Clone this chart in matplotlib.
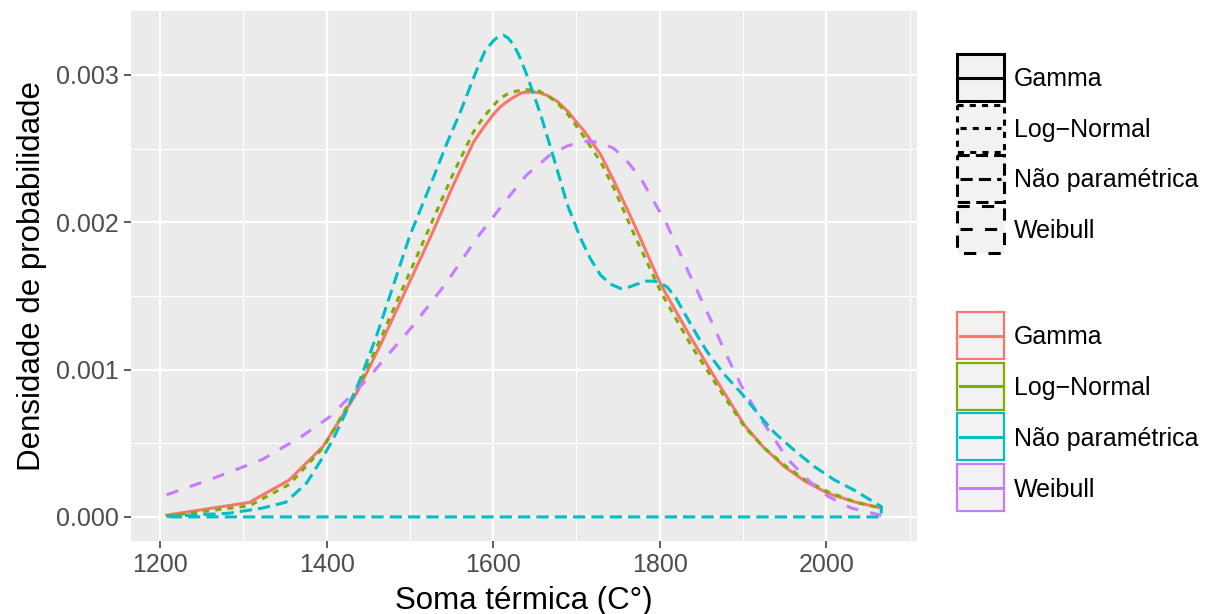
import matplotlib
matplotlib.use("Agg")
import matplotlib.pyplot as plt
import matplotlib.patches as mpatches

plt.rcParams.update({
    "font.family": "Liberation Sans",
    "axes.spines.top": False,
    "axes.spines.right": False,
    "axes.spines.left": False,
    "axes.spines.bottom": False,
})

# density curves (x in C°, y density)
x_gamma = [1208, 1307, 1355, 1396, 1436, 1464, 1496, 1524, 1552, 1576, 1588, 1600,
           1608, 1617, 1625, 1635, 1645, 1655, 1665, 1677, 1690, 1700, 1709, 1729,
           1745, 1769, 1801, 1837, 1870, 1902, 1925, 1950, 1975, 2002, 2035, 2066]
y_gamma = [0.000012, 0.000098, 0.00025, 0.00048, 0.00084, 0.00116, 0.00155, 0.00189,
           0.00225, 0.00254, 0.00264, 0.00273, 0.00278, 0.00282, 0.00285, 0.00288,
           0.002885, 0.00288, 0.00286, 0.00282, 0.00275, 0.00268, 0.00262, 0.00246,
           0.00228, 0.00199, 0.00158, 0.00122, 0.00091, 0.00062, 0.00047, 0.00034,
           0.00024, 0.00016, 0.00010, 0.00006]

x_lnorm = [1208, 1307, 1355, 1396, 1436, 1464, 1496, 1524, 1552, 1576, 1588, 1600,
           1608, 1617, 1628, 1640, 1655, 1665, 1677, 1690, 1709, 1729, 1745, 1769,
           1801, 1837, 1870, 1902, 1925, 1950, 1975, 2002, 2035, 2066]
y_lnorm = [0.000006, 0.000075, 0.00022, 0.00047, 0.00086, 0.00120, 0.00161, 0.00197,
           0.00233, 0.00261, 0.00271, 0.00279, 0.00284, 0.00287, 0.00289, 0.00290,
           0.00289, 0.00286, 0.00281, 0.00273, 0.00258, 0.00241, 0.00223, 0.00192,
           0.00153, 0.00117, 0.00088, 0.00061, 0.00047, 0.00035, 0.00025, 0.00017,
           0.00010, 0.00006]

x_kde = [1208, 1283, 1323, 1351, 1376, 1396, 1408, 1424, 1440, 1460, 1480, 1500, 1528,
         1544, 1560, 1580, 1590, 1600, 1606, 1612, 1618, 1625, 1632, 1641, 1657, 1673,
         1689, 1705, 1717, 1729, 1741, 1753, 1763, 1773, 1783, 1793, 1800, 1809, 1819,
         1829, 1843, 1857, 1877, 1898, 1918, 1938, 1962, 1986, 2010, 2034, 2066]
y_kde = [0.000003, 0.000025, 0.00006, 0.00010, 0.00023, 0.00041, 0.00053, 0.00072,
         0.00093, 0.00123, 0.00157, 0.00191, 0.00230, 0.00253, 0.00274, 0.00303, 0.00316,
         0.00323, 0.00326, 0.00327, 0.00325, 0.00320, 0.00312, 0.00299, 0.00273, 0.00243,
         0.00212, 0.00189, 0.00175, 0.00164, 0.00158, 0.00155, 0.00156, 0.00158, 0.00160,
         0.00160, 0.00159, 0.00156, 0.00149, 0.00139, 0.00125, 0.00112, 0.00097, 0.00084,
         0.00070, 0.00057, 0.00045, 0.00034, 0.00025, 0.00018, 0.00007]

x_weib = [1208, 1263, 1323, 1371, 1404, 1448, 1504, 1544, 1580, 1617, 1640, 1669,
          1690, 1713, 1730, 1745, 1760, 1777, 1793, 1809, 1833, 1861, 1880, 1898, 1922,
          1954, 1980, 2002, 2030, 2066]
y_weib = [0.00015, 0.00026, 0.00039, 0.00055, 0.00068, 0.00093, 0.00130, 0.00159,
          0.00189, 0.00216, 0.00232, 0.00246, 0.00252, 0.00255, 0.00254, 0.00250,
          0.00242, 0.00230, 0.00214, 0.00198, 0.00168, 0.00134, 0.00110, 0.00089,
          0.00066, 0.00039, 0.00024, 0.00014, 0.00006, 0.00001]

labels = ["Gamma", "Log\u2212Normal", "Não paramétrica", "Weibull"]
colors = ["#F8766D", "#7CAE00", "#00BFC4", "#C77CFF"]
dashes = [None, (2, 2), (4, 2), (4, 4)]
x_ticks = [1200, 1400, 1600, 1800, 2000]
y_ticks = [0.000, 0.001, 0.002, 0.003]

W, H = 1213, 614
fig = plt.figure(figsize=(W / 100, H / 100), dpi=100)
ax = fig.add_axes([131 / W, 1 - 541 / H, (917 - 131) / W, (541 - 11) / H])
ax.set_facecolor("#EBEBEB")
ax.set_axisbelow(True)

LW = 2.2


def styled(line, d):
    if d is not None:
        line.set_dashes(d)


# fitted densities
for xs, ys, i in [(x_gamma, y_gamma, 0), (x_lnorm, y_lnorm, 1), (x_weib, y_weib, 3)]:
    ln, = ax.plot(xs, ys, color=colors[i], lw=LW, solid_joinstyle="round")
    styled(ln, dashes[i])

# kernel density drawn as closed outline (ggplot geom_density)
kx = x_kde + [x_kde[-1], x_kde[0], x_kde[0]]
ky = y_kde + [0, 0, y_kde[0]]
ln, = ax.plot(kx, ky, color=colors[2], lw=LW, dash_capstyle="butt")
styled(ln, dashes[2])

all_x = x_gamma + x_lnorm + x_kde + x_weib
all_y = y_gamma + y_lnorm + y_kde + y_weib
xr = max(all_x) - min(all_x)
yr = max(all_y)
ax.set_xlim(min(all_x) - 0.05 * xr, max(all_x) + 0.05 * xr)
ax.set_ylim(-0.05 * yr, yr * 1.05)

ax.set_xticks(x_ticks)
ax.set_xticks([1300, 1500, 1700, 1900, 2100], minor=True)
ax.set_yticks(y_ticks)
ax.set_yticks([0.0005, 0.0015, 0.0025], minor=True)
ax.set_yticklabels([f"{v:.3f}" for v in y_ticks])
ax.grid(which="major", color="white", lw=1.6)
ax.grid(which="minor", color="white", lw=0.8)
ax.tick_params(which="major", length=5, width=1.1, color="#333333",
               labelcolor="#4D4D4D", labelsize=18, pad=4)
ax.tick_params(which="minor", length=0)

ax.set_xlabel("Soma térmica (C°)", fontsize=22.5, labelpad=6)
ax.set_ylabel("Densidade de probabilidade", fontsize=22.5, labelpad=6)

# legends drawn in pixel coordinates
ov = fig.add_axes([0, 0, 1, 1])
ov.set_xlim(0, W)
ov.set_ylim(H, 0)
ov.axis("off")
ov.patch.set_alpha(0)

kx0, kw, kh, step = 957, 47, 47, 50.5
for i, lab in enumerate(labels):
    top = 54 + i * step
    rect = mpatches.Rectangle((kx0, top), kw, kh, facecolor="#F2F2F2",
                              edgecolor="black", lw=LW)
    if dashes[i] is not None:
        rect.set_linestyle((0, dashes[i]))
    ov.add_patch(rect)
    ln, = ov.plot([kx0 + 3, kx0 + kw - 3], [top + kh / 2] * 2, color="black", lw=LW)
    styled(ln, dashes[i])
    ov.text(1014, top + kh / 2 + 2, lab, fontsize=18, va="center", ha="left")

for i, lab in enumerate(labels):
    top = 312 + i * 50.7
    rect = mpatches.Rectangle((kx0, top), kw, kh, facecolor="#F2F2F2",
                              edgecolor=colors[i], lw=1.6)
    ov.add_patch(rect)
    ov.plot([kx0 + 3, kx0 + kw - 3], [top + kh / 2] * 2, color=colors[i], lw=LW)
    ov.text(1014, top + kh / 2 + 2, lab, fontsize=18, va="center", ha="left")

fig.savefig("out.png", dpi=100, facecolor="white")
